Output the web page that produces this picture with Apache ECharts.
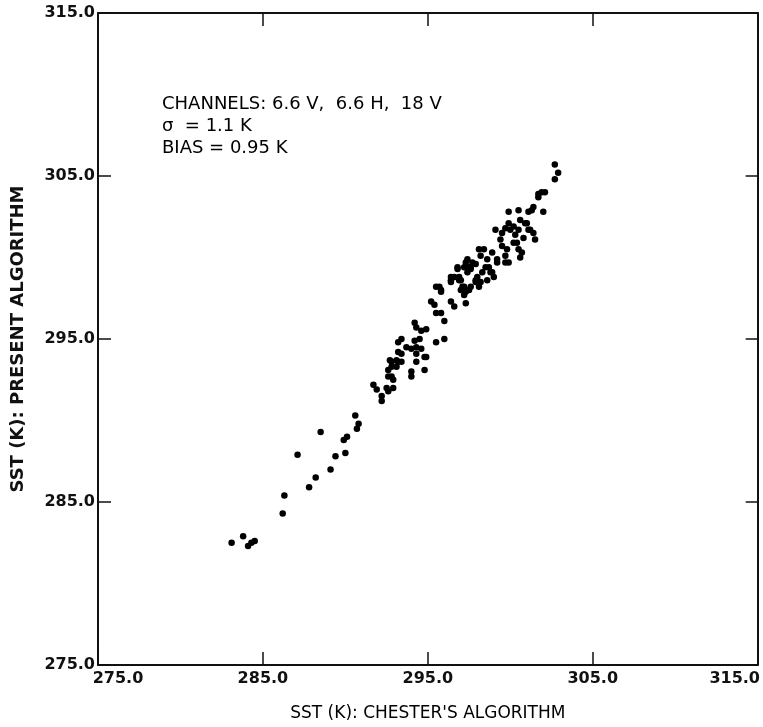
<!DOCTYPE html>
<html>
<head>
<meta charset="utf-8">
<script src="https://cdn.jsdelivr.net/npm/echarts@6/dist/echarts.min.js"></script>
<style>
  html, body { margin: 0; padding: 0; background: #fff; }
  #chart { width: 763px; height: 727px; }
</style>
</head>
<body>
<div id="chart"></div>
<script>
// SST (K) from Chester's algorithm (x) and from the present algorithm (y)
var sstChester = [
  283.1, 283.8, 284.1, 284.3, 284.5, 286.2, 286.3, 287.1, 287.8, 288.2,
  289.1, 288.5, 289.4, 290.0, 290.1, 289.9, 290.6, 290.8, 290.7,
  291.7, 291.9, 292.2, 292.2, 292.5, 292.6, 292.9, 292.6, 292.6, 292.8,
  292.8, 293.1, 293.2, 292.7, 292.9, 293.1, 292.8, 293.4, 293.2, 293.2,
  293.4, 293.7, 294.0, 294.3, 294.6, 293.4, 294.0, 294.0, 294.3, 294.3,
  294.8, 294.8, 294.9, 294.5, 294.2, 294.2, 294.3, 294.6, 294.9, 295.5,
  296.0, 296.0, 295.5, 295.8, 295.2, 295.4, 296.4, 296.6, 295.7, 295.8,
  297.3, 297.0, 297.3, 297.5, 297.2, 296.4, 296.8, 297.3, 297.5, 297.9,
  296.6, 296.9, 296.4, 297.9, 297.2, 296.9, 297.6, 297.2, 297.4, 297.7,
  297.9, 298.2, 298.6, 298.3, 298.5, 298.9, 299.0, 298.2, 298.4, 298.6,
  298.9, 299.2, 299.7, 299.9, 299.8, 299.5, 299.4, 299.1, 299.5, 300.2,
  300.5, 300.6, 300.3, 300.5, 300.8, 301.5, 301.1, 300.6, 300.9, 300.2,
  299.9, 299.9, 300.5, 301.1, 301.4, 302.0, 301.7, 301.9, 302.1, 302.7,
  302.7, 302.9, 300.0, 299.7, 300.4, 300.7, 299.7, 297.6, 297.4, 296.8,
  296.4, 297.0, 297.1, 297.6, 298.0, 298.1, 295.8, 295.5, 301.3, 301.7,
  301.0, 301.2, 301.4, 298.1, 298.7, 298.8, 299.2
]
var sstPresent = [
  282.5, 282.9, 282.3, 282.5, 282.6, 284.3, 285.4, 287.9, 285.9, 286.5,
  287.0, 289.3, 287.8, 288.0, 289.0, 288.8, 290.3, 289.8, 289.5,
  292.2, 291.9, 291.5, 291.2, 292.0, 291.8, 292.0, 293.1, 292.7, 292.7,
  293.6, 293.3, 294.8, 293.7, 292.5, 293.7, 293.3, 293.6, 293.6, 294.2,
  294.1, 294.5, 294.4, 294.5, 294.4, 295.0, 293.0, 292.7, 294.1, 293.6,
  293.9, 293.1, 293.9, 295.0, 294.9, 296.0, 295.7, 295.5, 295.6, 294.8,
  295.0, 296.1, 296.6, 296.6, 297.3, 297.1, 297.3, 297.0, 298.2, 297.9,
  297.2, 298.0, 297.9, 298.0, 297.7, 298.6, 299.3, 299.7, 299.4, 299.6,
  298.8, 298.6, 298.5, 298.5, 298.2, 298.8, 299.3, 299.4, 299.9, 299.7,
  298.6, 298.5, 298.6, 299.1, 299.4, 299.1, 298.8, 300.1, 300.5, 299.9,
  300.3, 299.9, 300.1, 299.7, 300.5, 300.7, 301.1, 301.7, 301.5, 300.9,
  300.5, 300.0, 301.4, 301.7, 301.2, 301.1, 301.7, 302.3, 302.1, 301.9,
  302.1, 302.8, 302.9, 302.8, 303.1, 302.8, 303.7, 304.0, 304.0, 304.8,
  305.7, 305.2, 301.7, 301.8, 300.9, 300.3, 299.7, 299.4, 299.1, 299.4,
  298.8, 298.6, 298.2, 298.2, 298.8, 298.2, 298.0, 298.2, 302.9, 303.9,
  302.1, 301.7, 301.5, 300.5, 299.4, 299.1, 299.7
]
var axisTicks = [275, 285, 295, 305, 315]

var points = []
for (var i = 0; i < sstChester.length; i++) {
  points.push([sstChester[i], sstPresent[i]])
}

var fontStack = "'DejaVu Sans', 'Liberation Sans', sans-serif"

function tickLabel (v) {
  return v.toFixed(1)
}

var oChart = echarts.init(document.getElementById('chart'))
var chartopt = {
  animation: false,
  backgroundColor: '#fff',
  grid: {
    left: 98,
    right: 3,
    top: 13,
    bottom: 61
  },
  graphic: [
    {
      type: 'text',
      left: 162,
      top: 93,
      style: {
        text: 'CHANNELS: 6.6 V,  6.6 H,  18 V\nσ  = 1.1 K\nBIAS = 0.95 K',
        font: '18px ' + fontStack,
        fill: '#000',
        lineHeight: 22
      }
    }
  ],
  xAxis: [
    {
      type: 'value',
      min: axisTicks[0],
      max: axisTicks[axisTicks.length - 1],
      interval: 10,
      name: "SST (K): CHESTER'S ALGORITHM",
      nameLocation: 'middle',
      nameGap: 40,
      nameTextStyle: { fontFamily: fontStack, fontSize: 17, color: '#000' },
      axisLine: { lineStyle: { color: '#111', width: 2 } },
      axisTick: { inside: true, length: 13, lineStyle: { color: '#111', width: 1.5 } },
      splitLine: { show: false },
      axisLabel: {
        margin: 6,
        fontFamily: fontStack,
        fontSize: 16,
        fontWeight: 'bold',
        color: '#111',
        formatter: function (v) {
          if (v === 275) return '{a|' + tickLabel(v) + '}'
          if (v === 315) return '{b|' + tickLabel(v) + '}'
          return tickLabel(v)
        },
        rich: {
          a: { padding: [0, 0, 0, 40], fontFamily: fontStack, fontSize: 16, fontWeight: 'bold', color: '#111' },
          b: { padding: [0, 46, 0, 0], fontFamily: fontStack, fontSize: 16, fontWeight: 'bold', color: '#111' }
        }
      }
    },
    {
      type: 'value',
      position: 'top',
      min: axisTicks[0],
      max: axisTicks[axisTicks.length - 1],
      interval: 10,
      axisLine: { lineStyle: { color: '#111', width: 2 } },
      axisTick: { inside: true, length: 13, lineStyle: { color: '#111', width: 1.5 } },
      axisLabel: { show: false },
      splitLine: { show: false }
    }
  ],
  yAxis: [
    {
      type: 'value',
      min: axisTicks[0],
      max: axisTicks[axisTicks.length - 1],
      interval: 10,
      name: 'SST (K): PRESENT ALGORITHM',
      nameLocation: 'middle',
      nameGap: 71,
      nameTextStyle: { fontFamily: fontStack, fontSize: 18, fontWeight: 'bold', color: '#111' },
      axisLine: { lineStyle: { color: '#111', width: 2 } },
      axisTick: { inside: true, length: 13, lineStyle: { color: '#111', width: 1.5 } },
      splitLine: { show: false },
      axisLabel: {
        margin: 3,
        fontFamily: fontStack,
        fontSize: 16,
        fontWeight: 'bold',
        color: '#111',
        formatter: tickLabel
      }
    },
    {
      type: 'value',
      position: 'right',
      min: axisTicks[0],
      max: axisTicks[axisTicks.length - 1],
      interval: 10,
      axisLine: { lineStyle: { color: '#111', width: 2 } },
      axisTick: { inside: true, length: 12, lineStyle: { color: '#111', width: 1.5 } },
      axisLabel: { show: false },
      splitLine: { show: false }
    }
  ],
  series: [
    {
      name: 'SST',
      type: 'scatter',
      symbol: 'circle',
      symbolSize: 6.5,
      itemStyle: { color: '#000', opacity: 1 },
      data: points
    }
  ]
}
oChart.setOption(chartopt)
</script>
</body>
</html>
